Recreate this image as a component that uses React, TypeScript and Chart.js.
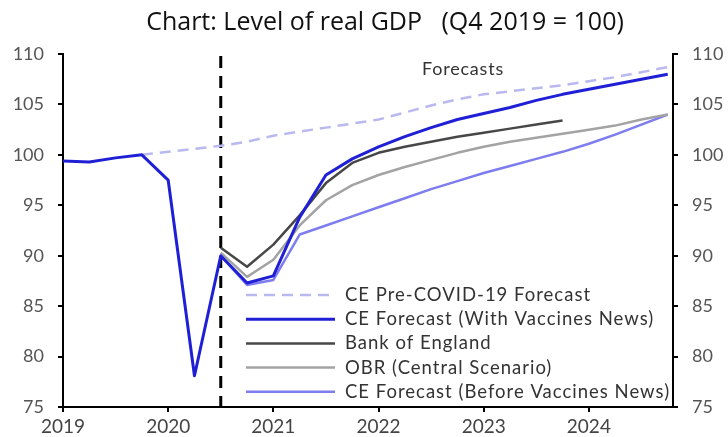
import React, { useEffect, useRef } from 'react';
import { Chart, registerables } from 'chart.js';

Chart.register(...registerables);

const quarters = [
  '2019 Q1', '2019 Q2', '2019 Q3', '2019 Q4',
  '2020 Q1', '2020 Q2', '2020 Q3', '2020 Q4',
  '2021 Q1', '2021 Q2', '2021 Q3', '2021 Q4',
  '2022 Q1', '2022 Q2', '2022 Q3', '2022 Q4',
  '2023 Q1', '2023 Q2', '2023 Q3', '2023 Q4',
  '2024 Q1', '2024 Q2', '2024 Q3', '2024 Q4',
];

const yearTickLabels = ['2019', '2020', '2021', '2022', '2023', '2024'];
const yTickValues = [75, 80, 85, 90, 95, 100, 105, 110];

const preCovidForecast = [null, null, null, 100.0, 100.3, 100.6, 100.9, 101.3, 101.9, 102.3, 102.7, 103.1, 103.5, 104.2, 104.9, 105.5, 106.0, 106.3, 106.6, 106.9, 107.3, 107.7, 108.2, 108.7];
const ceWithVaccines = [99.4, 99.3, 99.7, 100.0, 97.5, 78.1, 90.0, 87.3, 88.0, 93.8, 98.0, 99.6, 100.8, 101.8, 102.7, 103.5, 104.1, 104.7, 105.4, 106.0, 106.5, 107.0, 107.5, 108.0];
const bankOfEngland = [null, null, null, null, null, null, 90.8, 88.9, 91.1, 94.0, 97.2, 99.2, 100.2, 100.8, 101.3, 101.8, 102.2, 102.6, 103.0, 103.4, null, null, null, null];
const obrCentral = [null, null, null, null, null, null, 90.3, 87.9, 89.6, 93.0, 95.5, 97.0, 98.0, 98.8, 99.5, 100.2, 100.8, 101.3, 101.7, 102.1, 102.5, 102.9, 103.5, 104.0];
const ceBeforeVaccines = [null, null, null, null, null, null, 90.0, 87.1, 87.6, 92.1, 93.0, 93.9, 94.8, 95.7, 96.6, 97.4, 98.2, 98.9, 99.6, 100.3, 101.1, 102.0, 103.0, 104.0];

const forecastStartQuarter = '2020 Q3';

const legendOrder = [
  'CE Pre-COVID-19 Forecast',
  'CE Forecast (With Vaccines News)',
  'Bank of England',
  'OBR (Central Scenario)',
  'CE Forecast (Before Vaccines News)',
];

const AXIS_FONT = 'Lato, "DejaVu Sans", sans-serif';

function toPoints(values: (number | null)[]) {
  return values.map((v, i) => ({ x: i, y: v }));
}

export default function App() {
  const canvasRef = useRef<HTMLCanvasElement | null>(null);

  useEffect(() => {
    document.body.style.margin = '0';
    const canvas = canvasRef.current;
    if (!canvas) return;

    const overlay = {
      id: 'overlay',
      beforeDatasetsDraw(chart: any) {
        const { ctx, chartArea, scales } = chart;
        const xq = scales.x.getPixelForValue(quarters.indexOf(forecastStartQuarter));
        ctx.save();
        ctx.strokeStyle = '#000';
        ctx.lineWidth = 3;
        ctx.setLineDash([12, 8]);
        ctx.beginPath();
        ctx.moveTo(xq, chartArea.top + 2);
        ctx.lineTo(xq, chartArea.bottom);
        ctx.stroke();
        ctx.restore();
      },
      afterDraw(chart: any) {
        const { ctx } = chart;
        ctx.save();
        // Title
        ctx.fillStyle = '#111';
        ctx.font = '25px "Open Sans", sans-serif';
        ctx.textAlign = 'center';
        ctx.textBaseline = 'middle';
        ctx.fillText('Chart: Level of real GDP   (Q4 2019 = 100)', 385, 23);
        // Forecasts label
        ctx.fillStyle = '#333';
        ctx.font = '18px ' + AXIS_FONT;
        (ctx as any).letterSpacing = '0.8px';
        ctx.fillText('Forecasts', 463, 69);
        // Legend
        const x0 = 246;
        const x1 = 335;
        const tx = 345;
        const y0 = 295;
        const dy = 24.2;
        ctx.textAlign = 'left';
        ctx.font = '18.5px ' + AXIS_FONT;
        (ctx as any).letterSpacing = '1px';
        legendOrder.forEach((label, i) => {
          const ds = chart.data.datasets.find((d: any) => d.label === label);
          if (!ds) return;
          const y = y0 + i * dy;
          ctx.save();
          ctx.strokeStyle = ds.borderColor;
          ctx.lineWidth = ds.borderWidth;
          ctx.setLineDash(ds.borderDash || []);
          ctx.beginPath();
          ctx.moveTo(x0, y);
          ctx.lineTo(x1, y);
          ctx.stroke();
          ctx.restore();
          ctx.fillStyle = '#333';
          ctx.fillText(label, tx, y);
        });
        (ctx as any).letterSpacing = '0px';
        ctx.restore();
      },
    };

    const yAxisCommon = {
      type: 'linear' as const,
      min: 75,
      max: 110,
      afterBuildTicks: (scale: any) => {
        scale.ticks = yTickValues.map((v) => ({ value: v }));
      },
      ticks: {
        color: '#555',
        font: { family: AXIS_FONT, size: 18 },
        padding: 14,
      },
      grid: {
        drawOnChartArea: false,
        drawTicks: true,
        tickLength: 5,
        color: '#000',
        lineWidth: 2,
      },
      border: { display: true, color: '#000', width: 2 },
    };

    const chart = new Chart(canvas, {
      type: 'line',
      data: {
        datasets: [
          {
            label: 'CE Forecast (With Vaccines News)',
            data: toPoints(ceWithVaccines),
            borderColor: '#1f1fd6',
            borderWidth: 3,
          },
          {
            label: 'Bank of England',
            data: toPoints(bankOfEngland),
            borderColor: '#474747',
            borderWidth: 2.5,
          },
          {
            label: 'OBR (Central Scenario)',
            data: toPoints(obrCentral),
            borderColor: '#a3a3a3',
            borderWidth: 2.5,
          },
          {
            label: 'CE Forecast (Before Vaccines News)',
            data: toPoints(ceBeforeVaccines),
            borderColor: '#7d7df0',
            borderWidth: 2.5,
          },
          {
            label: 'CE Pre-COVID-19 Forecast',
            data: toPoints(preCovidForecast),
            borderColor: '#b9b9ef',
            borderWidth: 2.5,
            borderDash: [11, 7],
          },
        ] as any,
      },
      options: {
        animation: false,
        responsive: false,
        maintainAspectRatio: false,
        layout: { padding: { top: 54, left: 0, right: 0, bottom: 0 } },
        elements: {
          point: { radius: 0 },
          line: { tension: 0, capBezierPoints: false, borderCapStyle: 'butt', borderJoinStyle: 'round' },
        },
        plugins: {
          legend: { display: false },
          title: { display: false },
          tooltip: { enabled: false },
        },
        scales: {
          x: {
            type: 'linear',
            min: 0,
            max: 23.2,
            afterBuildTicks: (scale: any) => {
              scale.ticks = yearTickLabels.map((_, i) => ({ value: i * 4 }));
            },
            afterFit: (scale: any) => {
              scale.height = 30;
            },
            ticks: {
              color: '#444',
              font: { family: AXIS_FONT, size: 19 },
              padding: 3,
              maxRotation: 0,
              callback: (v: any) => yearTickLabels[Math.round(Number(v) / 4)] ?? '',
            },
            grid: {
              drawOnChartArea: false,
              drawTicks: true,
              tickLength: 5,
              color: '#000',
              lineWidth: 2,
            },
            border: { display: true, color: '#000', width: 2 },
          },
          y: {
            ...yAxisCommon,
            position: 'left',
            afterFit: (scale: any) => {
              scale.width = 63;
            },
          },
          y2: {
            ...yAxisCommon,
            position: 'right',
            afterFit: (scale: any) => {
              scale.width = 55;
            },
          },
        },
      } as any,
      plugins: [overlay],
    });

    return () => {
      chart.destroy();
    };
  }, []);

  return (
    <div style={{ width: 728, height: 437, background: '#fff' }}>
      <canvas ref={canvasRef} width={728} height={437} />
    </div>
  );
}
